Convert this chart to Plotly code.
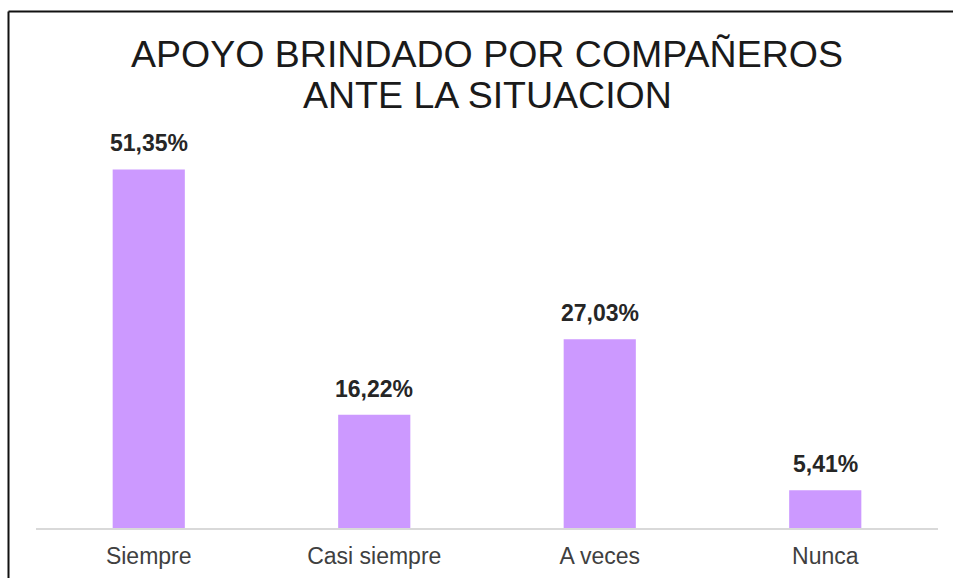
import plotly.graph_objects as go

categories = ["Siempre", "Casi siempre", "A veces", "Nunca"]
values = [51.35, 16.22, 27.03, 5.41]
title_lines = ["APOYO BRINDADO POR COMPAÑEROS", "ANTE LA SITUACION"]

labels = [f"{v:.2f}".replace(".", ",") + "%" for v in values]

FONT = "Liberation Sans, Arial, sans-serif"

fig = go.Figure()
fig.add_trace(go.Bar(
    x=categories, y=values,
    marker=dict(color="#CC99FF", line=dict(width=0)),
    hoverinfo="skip",
))

annotations = []
for c, v, t in zip(categories, values, labels):
    annotations.append(dict(
        x=c, y=v, xref="x", yref="y", text=f"<b>{t}</b>", showarrow=False,
        yanchor="middle", yshift=26,
        font=dict(family=FONT, size=23, color="#262626"),
    ))

annotations.append(dict(x=0.5, y=(528 - 53.5) / 419, xref="paper", yref="paper",
                        text=title_lines[0], showarrow=False, yanchor="middle",
                        font=dict(family=FONT, size=37.5, color="#1a1a1a")))
annotations.append(dict(x=0.5, y=(528 - 95) / 419, xref="paper", yref="paper",
                        text=title_lines[1], showarrow=False, yanchor="middle",
                        font=dict(family=FONT, size=37.5, color="#1a1a1a")))

x_left = (8.5 - 36) / 902
y_top = (528 - 11.5) / 419
shapes = [
    dict(type="line", xref="paper", yref="paper",
         x0=x_left, x1=(953 - 36) / 902, y0=y_top, y1=y_top,
         line=dict(color="#111111", width=2)),
    dict(type="line", xref="paper", yref="paper",
         x0=x_left, x1=x_left, y0=y_top, y1=-50 / 419,
         line=dict(color="#111111", width=2)),
]

fig.update_layout(
    width=953, height=578,
    margin=dict(l=36, r=15, t=109, b=50),
    paper_bgcolor="white", plot_bgcolor="white",
    bargap=0.68,
    showlegend=False,
    annotations=annotations,
    shapes=shapes,
    xaxis=dict(
        showline=True, linecolor="#d9d9d9", linewidth=1.5,
        ticks="", showgrid=False, zeroline=False, automargin=False,
        tickfont=dict(family=FONT, size=23, color="#404040"),
        ticklabelstandoff=7,
    ),
    yaxis=dict(
        range=[0, 60], visible=False, showgrid=False, zeroline=False,
        automargin=False,
    ),
)

fig.write_html(
    "out.html",
    config={"displayModeBar": False},
    post_script=(
        "document.body.style.margin='0';"
        "document.body.style.overflow='hidden';"
        "document.documentElement.style.overflow='hidden';"
    ),
)
